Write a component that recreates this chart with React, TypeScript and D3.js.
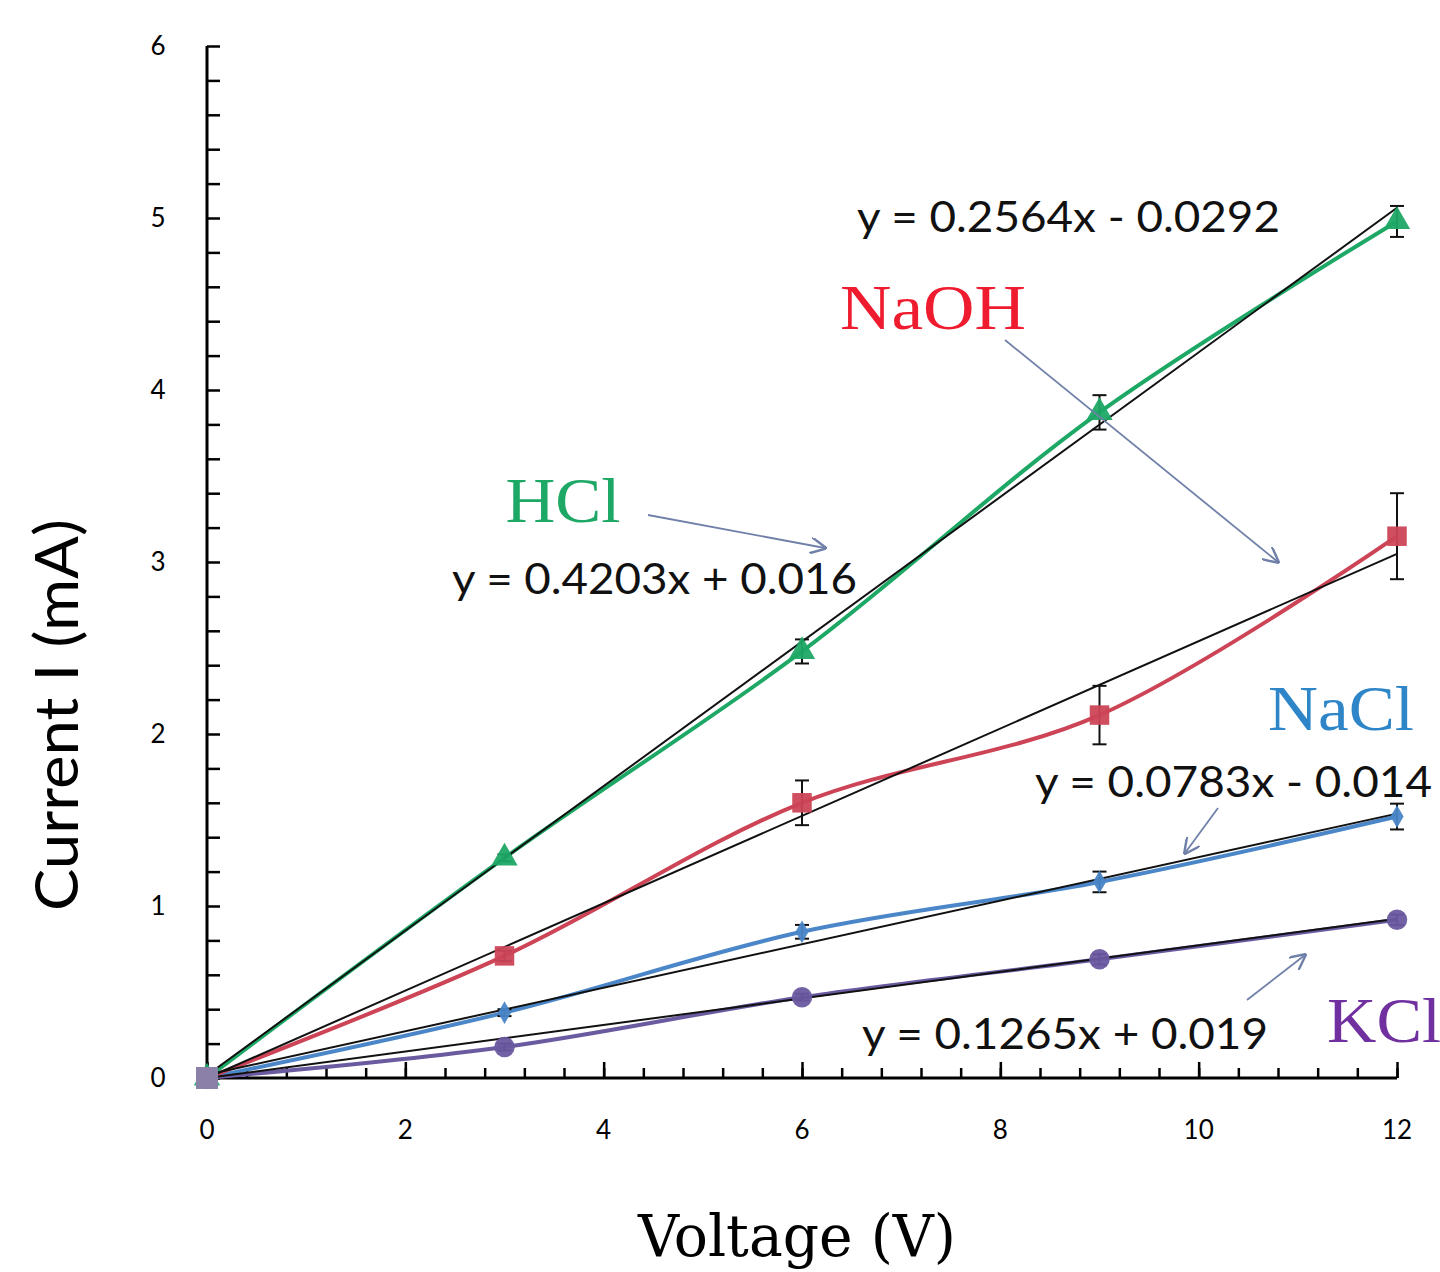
import React, { useEffect, useRef } from 'react';
import * as d3 from 'd3';

// voltage steps (V)
const voltages = [0, 3, 6, 9, 12];

// measured current (mA) for each electrolyte
const hclCurrent = [0, 1.28, 2.48, 3.87, 4.98];
const naohCurrent = [0, 0.71, 1.6, 2.11, 3.15];
const naclCurrent = [0, 0.38, 0.85, 1.14, 1.52];
const kclCurrent = [0, 0.18, 0.47, 0.69, 0.92];

// error bar half-heights
const hclErr = [0, 0.02, 0.07, 0.1, 0.09];
const naohErr = [0, 0.03, 0.13, 0.17, 0.25];
const naclErr = [0, 0.02, 0.04, 0.06, 0.075];
const kclErr = [0, 0.02, 0.02, 0.03, 0.03];

// trendlines [slope, intercept]
const hclFit = [0.4203, 0.016];
const naohFit = [0.2564, -0.0292];
const naclFit = [0.1265, 0.019];
const kclFit = [0.0783, -0.014];

const xTicks = [0, 2, 4, 6, 8, 10, 12];
const yTicks = [0, 1, 2, 3, 4, 5, 6];

const W = 1440;
const H = 1272;

export default function App() {
  const ref = useRef<SVGSVGElement>(null);

  useEffect(() => {
    const svg = d3.select(ref.current);
    svg.selectAll('*').remove();

    const x = d3.scaleLinear().domain([0, 12]).range([207, 1397]);
    const y = d3.scaleLinear().domain([0, 6]).range([1078, 46]);

    const defs = svg.append('defs');
    defs.append('marker')
      .attr('id', 'arr')
      .attr('viewBox', '0 0 10 10')
      .attr('refX', 9).attr('refY', 5)
      .attr('markerWidth', 9).attr('markerHeight', 9)
      .attr('orient', 'auto')
      .append('path')
      .attr('d', 'M0,0 L10,5 L0,10')
      .attr('fill', 'none')
      .attr('stroke', '#7080a8')
      .attr('stroke-width', 1.5);

    // axes
    const yMinor = d3.range(0, 6.001, 0.2);
    const yAxis = d3.axisLeft(y).tickValues(yMinor).tickSize(-13).tickFormat(() => '');
    svg.append('g').attr('transform', 'translate(207,0)').call(yAxis)
      .call(g => g.select('.domain').attr('stroke-width', 3).attr('d', `M0,${y(6)}V${y(0)}`))
      .call(g => g.selectAll('.tick line').attr('stroke-width', 2.5));

    const xMinor = d3.range(0, 12.001, 0.4);
    const xAxis = d3.axisBottom(x).tickValues(xMinor).tickSize(-10).tickFormat(() => '');
    svg.append('g').attr('transform', 'translate(0,1078)').call(xAxis)
      .call(g => g.select('.domain').attr('stroke-width', 3).attr('d', `M${x(0)},0H${x(12)}`))
      .call(g => g.selectAll('.tick line').attr('stroke-width', 2.5));
    svg.append('g').attr('transform', 'translate(0,1078)')
      .call(d3.axisBottom(x).tickValues(xTicks).tickSize(-16).tickFormat(() => ''))
      .call(g => g.select('.domain').remove())
      .call(g => g.selectAll('.tick line').attr('stroke-width', 2.5));

    svg.append('g').selectAll('text').data(yTicks).join('text')
      .attr('x', 158).attr('y', d => y(d) + 9)
      .attr('text-anchor', 'middle')
      .style('font-family', 'Lato, sans-serif').style('font-size', '26px')
      .text(d => d);
    svg.append('g').selectAll('text').data(xTicks).join('text')
      .attr('x', d => x(d)).attr('y', 1139)
      .attr('text-anchor', 'middle')
      .style('font-family', 'Lato, sans-serif').style('font-size', '26px')
      .text(d => d);

    svg.append('text')
      .attr('transform', 'translate(78,715) rotate(-90)')
      .attr('text-anchor', 'middle')
      .style('font-family', 'Lato, sans-serif').style('font-size', '60px')
      .attr('textLength', 392).attr('lengthAdjust', 'spacingAndGlyphs')
      .text('Current I (mA)');
    svg.append('text')
      .attr('x', 797).attr('y', 1256)
      .attr('text-anchor', 'middle')
      .style('font-family', '"DejaVu Serif", serif').style('font-size', '58px')
      .attr('textLength', 318).attr('lengthAdjust', 'spacingAndGlyphs')
      .text('Voltage (V)');

    const series = [
      { vals: naclCurrent, err: naclErr, color: '#4a86c8', mark: 'star', fit: naclFit },
      { vals: kclCurrent, err: kclErr, color: '#6a5aa0', mark: 'circle', fit: kclFit },
      { vals: naohCurrent, err: naohErr, color: '#cc4456', mark: 'square', fit: naohFit },
      { vals: hclCurrent, err: hclErr, color: '#1ea866', mark: 'triangle', fit: hclFit },
    ];

    const line = d3.line<number>()
      .x((_, i) => x(voltages[i]))
      .y(d => y(d))
      .curve(d3.curveCatmullRom.alpha(0.5));

    series.forEach(s => {
      svg.append('path')
        .attr('d', line(s.vals))
        .attr('fill', 'none')
        .attr('stroke', s.color)
        .attr('stroke-width', 4);
    });

    // trendlines
    series.forEach(s => {
      svg.append('line')
        .attr('x1', x(0)).attr('y1', y(Math.max(0, s.fit[1])))
        .attr('x2', x(12)).attr('y2', y(s.fit[0] * 12 + s.fit[1]))
        .attr('stroke', '#111').attr('stroke-width', 2);
    });

    // error bars
    series.forEach(s => {
      const g = svg.append('g').attr('stroke', '#111').attr('stroke-width', 2);
      s.vals.forEach((v, i) => {
        if (!s.err[i]) return;
        const cx = x(voltages[i]);
        g.append('line').attr('x1', cx).attr('x2', cx).attr('y1', y(v - s.err[i])).attr('y2', y(v + s.err[i]));
        g.append('line').attr('x1', cx - 7).attr('x2', cx + 7).attr('y1', y(v - s.err[i])).attr('y2', y(v - s.err[i]));
        g.append('line').attr('x1', cx - 7).attr('x2', cx + 7).attr('y1', y(v + s.err[i])).attr('y2', y(v + s.err[i]));
      });
    });

    // markers
    const symbolType: Record<string, d3.SymbolType> = {
      star: d3.symbolDiamond,
      circle: d3.symbolCircle,
      square: d3.symbolSquare,
      triangle: d3.symbolTriangle,
    };
    const symbolSize: Record<string, number> = { star: 150, circle: 330, square: 380, triangle: 300 };
    series.forEach(s => {
      svg.append('g').selectAll('path').data(s.vals).join('path')
        .attr('transform', (d, i) => `translate(${x(voltages[i])},${y(d)})`)
        .attr('d', d3.symbol(symbolType[s.mark], symbolSize[s.mark])())
        .attr('fill', s.color)
        .attr('opacity', 0.95);
    });
    // origin marker looks greyish-purple
    svg.append('rect').attr('x', x(0) - 11).attr('y', y(0) - 11).attr('width', 22).attr('height', 22)
      .attr('fill', '#8a80a8');

    // series labels
    const labels = [
      { t: 'HCl', x: 563, y: 522, c: '#1ea866', w: 115 },
      { t: 'NaOH', x: 933, y: 329, c: '#ee1c2e', w: 186 },
      { t: 'NaCl', x: 1341, y: 730, c: '#2e86c8', w: 146 },
      { t: 'KCl', x: 1384, y: 1042, c: '#7030a0', w: 114 },
    ];
    svg.append('g').selectAll('text').data(labels).join('text')
      .attr('x', d => d.x).attr('y', d => d.y)
      .attr('text-anchor', 'middle')
      .attr('fill', d => d.c)
      .attr('textLength', d => d.w).attr('lengthAdjust', 'spacingAndGlyphs')
      .style('font-family', '"Liberation Serif", serif').style('font-size', '64px')
      .text(d => d.t);

    // equations
    const eqs = [
      { t: 'y = 0.2564x - 0.0292', x: 857, y: 232, w: 423 },
      { t: 'y = 0.4203x + 0.016', x: 452, y: 594, w: 405 },
      { t: 'y = 0.0783x - 0.014', x: 1035, y: 797, w: 397 },
      { t: 'y = 0.1265x + 0.019', x: 862, y: 1049, w: 406 },
    ];
    svg.append('g').selectAll('text').data(eqs).join('text')
      .attr('x', d => d.x).attr('y', d => d.y)
      .attr('fill', '#111')
      .attr('textLength', d => d.w).attr('lengthAdjust', 'spacingAndGlyphs')
      .style('font-family', 'Lato, sans-serif').style('font-size', '42px')
      .text(d => d.t);

    // pointer arrows
    const arrows = [
      [648, 515, 825, 548],
      [1005, 340, 1278, 562],
      [1218, 808, 1185, 853],
      [1247, 1000, 1305, 955],
    ];
    svg.append('g').selectAll('line').data(arrows).join('line')
      .attr('x1', d => d[0]).attr('y1', d => d[1])
      .attr('x2', d => d[2]).attr('y2', d => d[3])
      .attr('stroke', '#7080a8').attr('stroke-width', 1.8)
      .attr('marker-end', 'url(#arr)');
  }, []);

  return (
    <svg ref={ref} width={W} height={H}
      style={{ position: 'absolute', left: 0, top: 0, background: '#fff' }} />
  );
}
